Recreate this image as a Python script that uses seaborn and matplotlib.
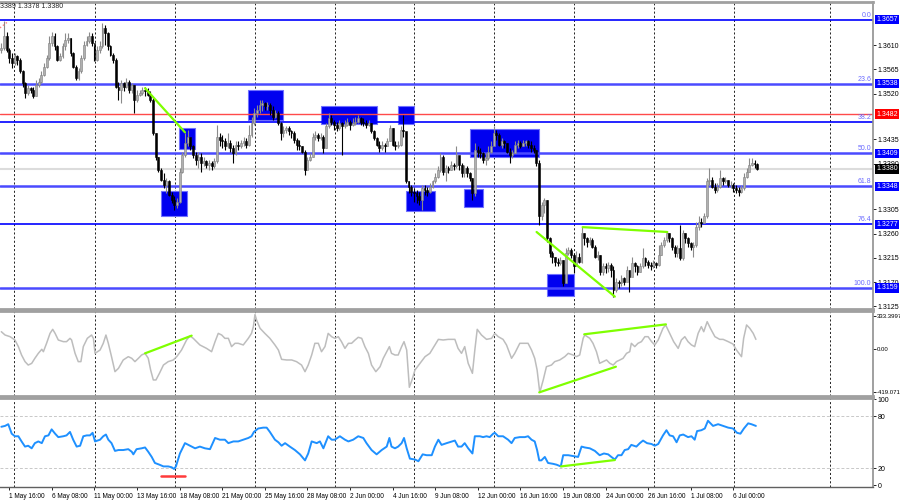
import numpy as np
import pandas as pd
import matplotlib
matplotlib.use('Agg')
import matplotlib.pyplot as plt
import matplotlib.transforms as mtransforms
from matplotlib.patches import Rectangle
import seaborn as sns

# GBPUSD H4 - prices in pips above 1.3000 (open of a bar = close of previous bar)
open_first = 601
close_pips = [604, 626, 601, 586, 577, 589, 583, 561, 539, 521,
              530, 527, 515, 536, 542, 555, 570, 586, 614, 626,
              608, 583, 589, 608, 620, 623, 595, 570, 549, 561,
              586, 611, 617, 626, 614, 583, 601, 608, 642, 632,
              608, 592, 583, 533, 527, 539, 533, 542, 527, 536,
              508, 518, 521, 527, 524, 518, 508, 446, 403, 378,
              360, 350, 357, 332, 323, 313, 319, 375, 406, 428,
              440, 422, 406, 397, 403, 391, 394, 388, 391, 385,
              394, 440, 434, 431, 422, 428, 419, 409, 425, 422,
              428, 431, 425, 443, 465, 484, 490, 499, 502, 496,
              499, 490, 477, 484, 465, 446, 453, 456, 450, 446,
              434, 425, 422, 412, 378, 397, 403, 440, 443, 437,
              440, 419, 459, 474, 468, 462, 456, 465, 459, 462,
              468, 462, 465, 468, 474, 468, 465, 462, 465, 450,
              437, 425, 419, 425, 422, 431, 456, 425, 422, 425,
              453, 450, 357, 347, 338, 335, 329, 323, 344, 341,
              338, 347, 357, 366, 378, 403, 375, 381, 378, 388,
              385, 406, 388, 372, 381, 372, 363, 335, 415, 412,
              409, 397, 400, 412, 422, 446, 443, 425, 431, 428,
              412, 406, 409, 425, 428, 422, 428, 431, 425, 419,
              415, 391, 292, 313, 323, 251, 224, 217, 208, 205,
              211, 168, 224, 230, 220, 199, 217, 208, 261, 251,
              245, 248, 236, 217, 220, 189, 199, 196, 202, 192,
              155, 171, 168, 177, 171, 192, 180, 205, 199, 189,
              199, 214, 208, 202, 199, 205, 202, 220, 239, 248,
              261, 251, 236, 224, 233, 214, 261, 251, 242, 236,
              239, 273, 282, 279, 292, 357, 360, 347, 341, 347,
              363, 357, 360, 350, 350, 344, 341, 338, 344, 366,
              375, 388, 391, 389, 380]
high_pips = [614, 654, 635, 604, 595, 595, 592, 586, 564, 542,
             536, 533, 533, 546, 549, 561, 577, 592, 626, 635,
             632, 611, 595, 614, 632, 632, 623, 598, 573, 567,
             592, 617, 626, 635, 632, 608, 608, 617, 651, 648,
             635, 611, 595, 586, 542, 546, 542, 549, 546, 539,
             536, 527, 527, 533, 533, 530, 524, 511, 446, 403,
             381, 372, 363, 360, 338, 329, 326, 381, 412, 446,
             453, 431, 425, 412, 412, 409, 403, 397, 397, 394,
             400, 462, 446, 443, 437, 446, 434, 425, 431, 431,
             434, 440, 437, 462, 477, 493, 499, 508, 508, 505,
             505, 502, 496, 490, 487, 468, 459, 459, 459, 453,
             450, 437, 434, 422, 415, 403, 409, 446, 450, 446,
             446, 443, 465, 484, 481, 471, 468, 471, 468, 471,
             474, 471, 474, 477, 481, 477, 474, 471, 471, 465,
             453, 440, 431, 431, 428, 437, 462, 456, 431, 431,
             459, 481, 446, 357, 350, 344, 341, 338, 350, 350,
             347, 354, 360, 372, 385, 409, 406, 388, 385, 394,
             391, 422, 403, 391, 388, 385, 375, 363, 428, 422,
             419, 412, 409, 422, 431, 459, 453, 446, 437, 434,
             428, 419, 415, 431, 434, 431, 434, 434, 434, 431,
             425, 415, 397, 319, 326, 323, 254, 227, 217, 214,
             217, 211, 233, 236, 233, 224, 227, 224, 273, 261,
             254, 254, 251, 239, 227, 220, 205, 205, 208, 205,
             199, 177, 174, 183, 180, 199, 192, 217, 208, 202,
             205, 233, 217, 211, 208, 211, 208, 239, 245, 254,
             264, 261, 254, 239, 239, 276, 267, 261, 254, 245,
             245, 282, 292, 289, 298, 363, 381, 366, 354, 354,
             379, 366, 366, 360, 357, 354, 350, 347, 350, 372,
             381, 400, 401, 397, 392]
low_pips = [595, 601, 598, 577, 567, 573, 573, 558, 533, 511,
            518, 521, 511, 515, 533, 539, 552, 567, 583, 608,
            601, 580, 580, 586, 601, 614, 589, 567, 546, 546,
            558, 583, 608, 614, 608, 580, 580, 595, 604, 611,
            601, 589, 577, 530, 508, 502, 524, 530, 521, 521,
            484, 505, 515, 518, 515, 515, 505, 443, 397, 375,
            357, 344, 335, 329, 316, 304, 307, 316, 372, 403,
            422, 415, 400, 388, 381, 375, 385, 381, 378, 378,
            381, 391, 422, 419, 415, 419, 412, 391, 406, 415,
            419, 422, 419, 422, 440, 462, 477, 484, 487, 490,
            490, 481, 471, 474, 462, 434, 440, 446, 443, 437,
            428, 415, 415, 409, 369, 381, 394, 403, 434, 431,
            434, 409, 419, 456, 462, 453, 450, 453, 406, 456,
            459, 453, 459, 462, 465, 462, 459, 456, 459, 446,
            434, 422, 412, 415, 412, 422, 431, 422, 415, 419,
            422, 440, 354, 335, 329, 319, 316, 313, 304, 332,
            329, 335, 344, 354, 363, 375, 369, 357, 372, 378,
            378, 381, 378, 366, 366, 366, 357, 323, 329, 403,
            400, 391, 388, 397, 409, 425, 434, 422, 419, 419,
            409, 391, 400, 409, 419, 419, 422, 422, 419, 412,
            409, 385, 276, 285, 298, 245, 217, 205, 199, 199,
            202, 162, 168, 220, 214, 186, 199, 205, 205, 239,
            236, 239, 233, 214, 211, 183, 183, 186, 189, 180,
            143, 152, 159, 162, 165, 174, 152, 183, 189, 183,
            189, 196, 199, 196, 192, 196, 196, 199, 220, 236,
            245, 245, 230, 217, 217, 211, 211, 242, 236, 230,
            217, 236, 267, 273, 279, 289, 350, 344, 335, 338,
            344, 350, 354, 347, 344, 338, 335, 329, 335, 341,
            363, 375, 385, 381, 378]

time_labels = ['1 May 16:00', '6 May 08:00', '11 May 00:00', '13 May 16:00',
               '18 May 08:00', '21 May 00:00', '25 May 16:00', '28 May 08:00',
               '2 Jun 00:00', '4 Jun 16:00', '9 Jun 08:00', '12 Jun 00:00',
               '16 Jun 16:00', '19 Jun 08:00', '24 Jun 00:00', '26 Jun 16:00',
               '1 Jul 08:00', '6 Jul 00:00']

# CCI (bar position, value)
cci_bar = [0, 1.4, 3.3, 5.1, 6.4, 7.6, 8.9, 10.1, 11.4, 12.6,
           13.9, 15.2, 15.8, 17.0, 18.3, 19.3, 20.2, 21.4, 23.3, 24.5,
           25.8, 26.4, 27.7, 28.9, 29.9, 30.8, 32.3, 33.9, 34.6, 35.2,
           37.1, 38.3, 39.3, 40.2, 41.4, 42.7, 44.0, 45.8, 47.7, 49.0,
           50.2, 51.5, 52.7, 54.0, 55.2, 56.1, 57.1, 58.1, 59.4, 60.9,
           62.7, 64.6, 65.9, 67.7, 69.6, 70.9, 72.1, 74.6, 77.1, 79.0,
           80.3, 81.5, 82.8, 84.0, 85.3, 86.5, 87.8, 89.0, 90.9, 92.8,
           94.0, 94.7, 95.3, 95.9, 97.2, 99.0, 100.9, 102.8, 104.1, 105.3,
           107.2, 109.1, 110.9, 112.8, 114.1, 115.3, 116.6, 117.8, 119.1, 120.3,
           121.6, 122.8, 124.1, 125.3, 126.6, 127.8, 129.1, 130.4, 131.6, 132.9,
           134.1, 135.4, 136.6, 137.9, 139.1, 140.7, 142.3, 143.5, 144.8, 145.8,
           146.6, 147.9, 149.1, 150.4, 151.3, 152.3, 153.3, 154.5, 155.4, 157.3,
           159.2, 161.0, 162.9, 164.2, 166.0, 167.9, 170.4, 171.6, 172.9, 173.5,
           174.1, 175.4, 177.0, 177.9, 178.8, 180.4, 182.3, 184.2, 185.4, 186.7,
           188.5, 189.8, 191.7, 192.9, 194.8, 197.9, 199.2, 200.4, 201.3, 202.3,
           203.6, 204.8, 206.7, 207.9, 209.8, 211.7, 213.0, 214.8, 216.1, 217.3,
           218.6, 219.2, 221.1, 222.3, 223.6, 224.8, 226.1, 227.4, 228.6, 229.9,
           231.1, 232.4, 233.6, 234.9, 236.1, 236.7, 238.0, 239.2, 240.5, 241.8,
           243.0, 244.3, 245.5, 246.8, 248.6, 249.6, 251.1, 252.6, 254.3, 255.5,
           256.8, 258.0, 259.3, 260.5, 261.8, 263.0, 263.9, 265.2, 266.4, 268.1,
           269.9, 271.2, 273.1, 274.9, 276.2, 278.1, 278.9, 280.0, 281.2, 282.5,
           283.5]
cci_val = [167, 135, 119, 87, 23, -58, -122, -155, -139, -90,
           -42, -3, -26, 55, 151, 190, 151, 87, 71, 71,
           103, 87, -42, -122, -122, 23, 103, 135, 103, -42,
           -10, 55, 135, 55, -74, -219, -187, -106, -74, -90,
           -122, -90, -58, -42, -90, -203, -299, -299, -235, -155,
           -122, -106, -74, -10, 87, 126, 103, 39, 6, -26,
           71, 151, 135, 103, 103, 23, 55, 55, 39, 103,
           151, 216, 333.4, 280, 200, 151, 103, 39, -10, -100,
           -106, -106, -122, -155, -219, -155, -58, 55, 55, -26,
           23, 151, 119, 103, 119, 71, 6, 55, 55, 87,
           113, 103, 23, -42, -155, -219, -171, -90, -26, 23,
           -42, -58, -58, 23, 71, -10, -370, -283, -203, -138,
           -74, -42, 39, 93, 87, 93, 93, 6, -42, -10,
           23, -138, -235, -10, 190, 135, 93, 103, 151, 119,
           93, 39, -90, -42, 55, 55, -10, -90, -203, -419.07,
           -299, -171, -155, -122, -106, -74, -42, -58, -74, -58,
           103, 135, 103, 55, -26, -138, -122, -106, -138, -155,
           -122, -106, -90, -42, -26, 55, 23, 55, 71, 119,
           119, 71, 39, 87, 200, 232, 151, 71, 6, 87,
           119, 71, 39, 23, 151, 216, 167, 264, 200, 119,
           93, 93, 71, 48, -10, -74, 103, 232, 200, 151,
           93]

# RSI (bar position, value)
rsi_bar = [0, 1.4, 2.6, 3.9, 5.1, 6.4, 7.6, 8.9, 10.1, 11.4,
           12.6, 13.9, 15.2, 16.4, 17.7, 18.9, 20.2, 21.4, 23.3, 24.5,
           25.8, 27.0, 28.3, 29.6, 30.8, 32.1, 33.3, 34.3, 35.2, 37.1,
           38.3, 39.3, 40.2, 41.4, 42.7, 44.0, 45.8, 47.7, 49.0, 49.6,
           50.8, 52.7, 54.0, 55.2, 56.5, 57.7, 59.4, 60.9, 62.7, 64.0,
           64.9, 65.6, 67.1, 69.0, 70.9, 72.8, 74.6, 76.5, 78.4, 80.3,
           82.1, 84.0, 85.3, 87.2, 89.0, 90.9, 92.8, 94.0, 94.9, 96.5,
           98.4, 99.7, 100.9, 102.8, 104.1, 105.3, 106.6, 108.4, 110.3, 112.2,
           114.1, 115.3, 116.6, 118.5, 119.7, 121.0, 122.8, 124.1, 125.3, 127.2,
           129.1, 130.4, 132.2, 134.1, 136.0, 137.2, 139.1, 141.0, 142.9, 144.8,
           145.8, 146.6, 147.9, 149.1, 150.4, 151.3, 152.3, 153.5, 155.4, 156.7,
           158.3, 159.8, 161.7, 162.9, 164.2, 165.4, 167.3,
           170.4, 171.6, 172.9, 174.1, 175.4, 177.0, 177.9, 179.8, 181.0, 182.3,
           183.5, 184.8, 185.4, 186.7, 188.5, 190.4, 191.7, 192.9, 194.8, 196.7,
           197.9, 199.2, 200.4, 201.3, 202.1, 202.9, 204.2, 205.4, 207.3, 208.6,
           210.2, 211.1, 213.0, 214.8, 216.7, 218.0, 219.2, 221.1, 223.0, 224.8,
           226.4, 228.0, 229.2, 230.5, 231.7, 233.0, 234.2, 235.5, 236.7, 238.6,
           239.9, 241.1, 242.6, 244.3, 245.5, 246.8, 248.6, 249.9, 251.1, 252.4,
           253.7, 254.9, 256.2, 258.0, 259.3, 260.5, 261.4, 263.0, 264.3, 265.5,
           267.4, 269.3, 271.2, 273.1, 274.9, 276.4, 277.7, 279.0, 280.6, 281.8,
           283.5]
rsi_val = [68, 69, 71, 60, 57, 57, 51, 45, 46, 43,
           49, 51, 49, 57, 58, 65, 60, 56, 57, 58,
           62, 53, 45, 46, 57, 58, 58, 61, 51, 53,
           57, 59, 53, 49, 40, 41, 41, 42, 39, 36,
           42, 43, 44, 39, 33, 26, 24, 22, 22, 21,
           19, 22, 37, 49, 46, 43, 45, 43, 42, 55,
           53, 53, 49, 51, 51, 53, 55, 57, 62, 66,
           67, 67, 62, 53, 50, 46, 49, 45, 41, 36,
           29, 37, 51, 49, 51, 43, 57, 53, 53, 57,
           53, 51, 53, 57, 55, 49, 41, 36, 41, 45,
           55, 45, 43, 45, 49, 55, 43, 31, 30, 28,
           36, 35, 35, 45, 53, 47, 49,
           52, 45, 45, 49, 43, 37, 57, 57, 56, 57,
           56, 60, 61, 57, 57, 53, 49, 55, 56, 56,
           57, 53, 51, 41, 29, 29, 33, 26, 25, 24,
           22, 35, 35, 34, 33, 45, 44, 43, 40, 35,
           37, 36, 33, 30, 35, 35, 41, 42, 47, 45,
           49, 52, 49, 48, 46, 48, 58, 64, 58, 57,
           50, 58, 59, 56, 57, 53, 63, 64, 66, 75,
           69, 71, 69, 67, 66, 61, 60, 66, 72, 71,
           69]

# Fibonacci grid and price tags
fib_names = ['0.0', '23.6', '38.2', '50.0', '61.8', '76.4', '100.0']
fib_prices = [1.3657, 1.3538, 1.3467, 1.3409, 1.3348, 1.3277, 1.3159]
red_level = 1.3482
last_price = 1.3380

# blue zones: start bar, end bar, low, high
zone_x0 = [59.9, 66.9, 92.8, 120.0, 149.0, 152.0, 173.9, 176.1, 205.1]
zone_x1 = [69.9, 72.8, 105.9, 141.0, 155.0, 163.0, 181.1, 202.1, 215.1]
zone_lo = [1.3293, 1.3417, 1.3471, 1.3463, 1.3463, 1.3302, 1.3309, 1.3403, 1.3144]
zone_hi = [1.3339, 1.3456, 1.3527, 1.3496, 1.3497, 1.3340, 1.3343, 1.3455, 1.3185]

# green divergence lines
price_div_x = [[54.0, 69.0], [201.1, 230.5], [218.4, 250.2]]
price_div_y = [[1.3530, 1.3448], [1.3263, 1.3143], [1.3272, 1.3263]]
cci_div_x = [[54.0, 71.5], [202.1, 230.9], [219.0, 249.7]]
cci_div_y = [[-42, 129], [-419, -171], [142, 238]]
rsi_div_x = [210.3, 230.5]
rsi_div_y = [22, 29.4]
rsi_low_x = [59.9, 69.1]
rsi_low_y = [11.2, 11.2]

price_ticks = [1.3125, 1.3170, 1.3215, 1.3260, 1.3305, 1.3390, 1.3435, 1.3520, 1.3565, 1.3610]

n = len(close_pips)
assert n == len(high_pips) == len(low_pips)
assert len(cci_bar) == len(cci_val) and len(rsi_bar) == len(rsi_val)

df = pd.DataFrame({'close': 1.3 + np.array(close_pips) / 10000,
                   'high': 1.3 + np.array(high_pips) / 10000,
                   'low': 1.3 + np.array(low_pips) / 10000})
df['open'] = df['close'].shift(1).fillna(1.3 + open_first / 10000)
df['bar'] = np.arange(n)

sns.set_style('white')
plt.rcParams['font.family'] = ['Liberation Sans', 'DejaVu Sans']
FS = 5  # MT4 uses a very small font

fig = plt.figure(figsize=(9, 5), dpi=100)
ax_p = fig.add_axes([0, 0.382, 0.97, 0.614])
ax_c = fig.add_axes([0, 0.208, 0.97, 0.170])
ax_r = fig.add_axes([0, 0.026, 0.97, 0.178])

grid_bars = [4.9, 35.1, 65.1, 95.2, 125.2, 155.2, 185.2, 215.3, 245.3, 275.3, 311.4]
for ax in (ax_p, ax_c, ax_r):
    ax.set_xlim(-0.5, 327.5)
    for g in grid_bars:
        ax.axvline(g, color='black', lw=0.6, ls=(0, (2.5, 2.5)), zorder=0.5)
    ax.spines['left'].set_visible(False)
    ax.spines['top'].set_color('#a0a0a0')
    ax.spines['top'].set_linewidth(2)
    ax.spines['bottom'].set_color('#a0a0a0')
    ax.spines['bottom'].set_linewidth(2)
    ax.spines['right'].set_color('#909090')
    ax.spines['right'].set_linewidth(1.2)
    ax.yaxis.tick_right()
    ax.tick_params(axis='y', labelsize=FS, length=2, width=0.6, pad=1.2, colors='black')
ax_r.spines['bottom'].set_color('#606060')
ax_r.spines['bottom'].set_linewidth(1)

# ---- price panel ----
ax_p.set_ylim(1.3120, 1.3690)
ax_p.tick_params(axis='x', bottom=False, labelbottom=False)
ax_p.set_yticks(price_ticks)
ax_p.set_yticklabels([f'{v:.4f}' for v in price_ticks])

for x0, x1, lo, hi in zip(zone_x0, zone_x1, zone_lo, zone_hi):
    ax_p.add_patch(Rectangle((x0, lo), x1 - x0, hi - lo, facecolor='#0000f0',
                             edgecolor='#7070ff', lw=0.8, zorder=1))

ax_p.axhline(last_price, color='#dcdcdc', lw=1.5, zorder=0.8)
ax_p.axhline(red_level, color='#ff4a4a', lw=1, zorder=1.5)
for name, lvl in zip(fib_names, fib_prices):
    thick = name in ('23.6', '50.0', '61.8', '100.0')
    ax_p.axhline(lvl, color='#4a4aff' if thick else '#0000ff',
                 lw=1.8 if thick else 1.2, zorder=1.6)

tr = mtransforms.blended_transform_factory(ax_p.transAxes, ax_p.transData)
for name, lvl in zip(fib_names, fib_prices):
    ax_p.text(0.998, lvl + 0.0002, name, transform=tr, ha='right', va='bottom',
              fontsize=FS, color='#6a6aff')

up = df['close'] >= df['open']
for mask, wick, body, edge in ((up, '#8a8a8a', '#b0b0b0', '#808080'),
                               (~up, 'black', 'black', 'black')):
    d = df[mask]
    ax_p.vlines(d['bar'], d['low'], d['high'], color=wick, lw=0.8, zorder=3)
    lo = np.minimum(d['open'], d['close'])
    h = (d['close'] - d['open']).abs().clip(lower=0.00005)
    ax_p.bar(d['bar'], h, bottom=lo, width=0.7, color=body, edgecolor=edge,
             linewidth=0.4, zorder=3.5)

for xs, ys in zip(price_div_x, price_div_y):
    ax_p.plot(xs, ys, color='#7fff00', lw=1.6, zorder=4)
ax_p.plot([-0.5, 2.6], [1.3642, 1.3654], color='#ff8080', ls=':', lw=1, zorder=4)

tags = [(p, '#0000ff') for nm, p in zip(fib_names, fib_prices) if nm != '38.2']
tags += [(red_level, '#ff0000'), (last_price, '#000000')]
for p, c in tags:
    ax_p.text(1.004, p, f'{p:.4f}', transform=tr, ha='left', va='center',
              fontsize=FS, color='white', zorder=10, clip_on=False,
              bbox=dict(boxstyle='square,pad=0.15', fc=c, ec='none'))

# ---- CCI panel ----
sns.lineplot(x=cci_bar, y=cci_val, ax=ax_c, color='#bdbdbd', linewidth=1.1,
             sort=False, estimator=None)
for xs, ys in zip(cci_div_x, cci_div_y):
    ax_c.plot(xs, ys, color='#7fff00', lw=1.6, zorder=4)
ax_c.set_ylim(-454, 367)
ax_c.set_yticks([320, 0, -419.071])
ax_c.set_yticklabels(['333.3997', '0.00', '-419.071'])
ax_c.tick_params(axis='y', labelsize=4.3, pad=0.5)
ax_c.tick_params(axis='x', bottom=False, labelbottom=False)
ax_c.set_xlabel('')
ax_c.set_ylabel('')

# ---- RSI panel ----
for lvl in (80, 20):
    ax_r.axhline(lvl, color='#c8c8c8', lw=0.7, ls=(0, (3, 2)), zorder=0.6)
sns.lineplot(x=rsi_bar, y=rsi_val, ax=ax_r, color='#1e90ff', linewidth=1.4,
             sort=False, estimator=None)
ax_r.plot(rsi_div_x, rsi_div_y, color='#7fff00', lw=1.6, zorder=4)
ax_r.plot(rsi_low_x, rsi_low_y, color='#ff3b3b', lw=1.8, zorder=4, clip_on=False)
ax_r.set_ylim(-1.9, 101.4)
ax_r.set_yticks([100, 80, 20, 0])
ax_r.set_yticklabels(['100', '80', '20', '0'])
ax_r.set_xlabel('')
ax_r.set_ylabel('')
label_bars = np.arange(len(time_labels)) * 16 + 3
ax_r.set_xticks(label_bars)
ax_r.set_xticklabels(time_labels, ha='left')
ax_r.tick_params(axis='x', labelsize=4.7, length=2.5, width=0.6, pad=1.5, colors='black',
                 bottom=True)

fig.text(0.0, 0.986, '3389 1.3378 1.3380', fontsize=FS, ha='left', va='center')

fig.savefig('out.png', dpi=100)
